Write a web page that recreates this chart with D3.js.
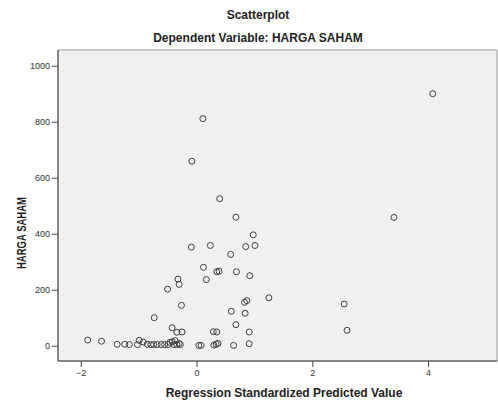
<!DOCTYPE html>
<html><head><meta charset="utf-8">
<script src="https://cdn.jsdelivr.net/npm/d3@7"></script>
<style>body{margin:0;background:#fff}svg{display:block}text{font-family:"Liberation Sans",Arial,sans-serif}</style>
</head><body>
<script>
const title = "Scatterplot";
const subtitle = "Dependent Variable: HARGA SAHAM";
const xLabel = "Regression Standardized Predicted Value";
const yLabel = "HARGA SAHAM";
const xTicks = [-2, 0, 2, 4];
const yTicks = [0, 200, 400, 600, 800, 1000];
const predicted = [4.08, 3.41, 2.55, 2.60, 0.11, -0.08, 0.40, 0.68, 0.98, -0.09, 0.24, 0.85, 1.01, 0.59, 0.12, 0.35, 0.39, 0.69, 0.92, -0.32, -0.30, 0.17, -0.50, -0.26, 0.83, 0.87, 1.25, -0.73, 0.60, 0.84, 0.68, -0.42, -0.34, -0.25, 0.29, 0.35, 0.91, -1.88, -1.64, -1.37, -1.24, -1.16, -1.02, -0.99, -0.92, -0.85, -0.79, -0.74, -0.68, -0.61, -0.55, -0.49, -0.46, -0.42, -0.39, -0.37, -0.34, -0.30, -0.28, 0.04, 0.08, 0.30, 0.34, 0.37, 0.64, 0.91];
const harga = [900, 458, 149, 55, 811, 659, 525, 459, 396, 352, 358, 354, 358, 326, 280, 264, 266, 264, 250, 238, 219, 236, 202, 144, 155, 161, 171, 100, 123, 116, 75, 64, 48, 49, 50, 49, 49, 20, 16, 5, 5, 4, 4, 19, 13, 5, 4, 4, 4, 4, 4, 4, 12, 14, 4, 18, 4, 8, 4, 1, 1, 2, 5, 8, 1, 7];

const W = 498, H = 401;
const svg = d3.select("body").append("svg").attr("width", W).attr("height", H);
const L = 58, R = 497, T = 50, B = 361;
const x = d3.scaleLinear().domain([-2, 2]).range([80.7, 312.3]);
const y = d3.scaleLinear().domain([0, 1000]).range([345.7, 65.7]);

svg.append("rect").attr("x", L).attr("y", T).attr("width", R - L).attr("height", B - T)
  .attr("fill", "#f0f0f0").attr("stroke", "#9a9a9a").attr("stroke-width", 1);

const gx = svg.append("g").attr("transform", `translate(0,${B})`)
  .call(d3.axisBottom(x).tickValues(xTicks).tickSize(6).tickPadding(3).tickFormat(d3.format("d")));
gx.select(".domain").attr("d", `M${L},0H${R}`).attr("stroke", "#444");
const gy = svg.append("g").attr("transform", `translate(${L},0)`)
  .call(d3.axisLeft(y).tickValues(yTicks).tickSize(6).tickPadding(2).tickFormat(d3.format("d")));
gy.select(".domain").attr("d", `M0,${T}V${B}`).attr("stroke", "#444");
svg.selectAll(".tick line").attr("stroke", "#444");
svg.selectAll(".tick text").attr("fill", "#333").style("font-size", "9px").style("font-family", "'Liberation Sans', Arial, sans-serif");

svg.append("g").selectAll("circle").data(predicted.map((p, i) => [p, harga[i]])).join("circle")
  .attr("cx", d => x(d[0])).attr("cy", d => y(d[1])).attr("r", 3)
  .attr("fill", "none").attr("stroke", "#404040").attr("stroke-width", 1);

svg.append("text").attr("x", 258).attr("y", 19).attr("text-anchor", "middle")
  .style("font-size", "12px").style("font-weight", "bold").attr("fill", "#222").text(title);
svg.append("text").attr("x", 258).attr("y", 42).attr("text-anchor", "middle")
  .style("font-size", "12px").style("font-weight", "bold").attr("fill", "#222").text(subtitle);
svg.append("text").attr("x", 284).attr("y", 397).attr("text-anchor", "middle")
  .style("font-size", "12px").style("font-weight", "bold").attr("fill", "#222").text(xLabel);
svg.append("text").attr("transform", "translate(26,233) rotate(-90)").attr("text-anchor", "middle")
  .attr("textLength", 72).attr("lengthAdjust", "spacingAndGlyphs")
  .style("font-size", "13px").style("font-weight", "bold").attr("fill", "#222").text(yLabel);
</script>
</body></html>
